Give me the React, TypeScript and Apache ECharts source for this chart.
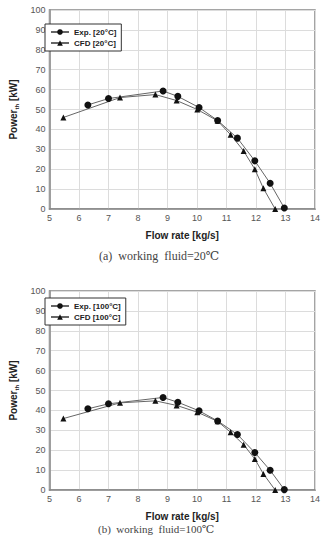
import React, { useEffect, useRef } from "react";
import * as echarts from "echarts";

// Flow rate [kg/s] of the measured and simulated operating points
const flowExp = [6.3, 7.0, 8.85, 9.35, 10.07, 10.7, 11.37, 11.96, 12.48, 12.96];
const flowCfd = [5.47, 7.39, 8.59, 9.31, 10.01, 10.7, 11.14, 11.58, 11.96, 12.25, 12.65];

// Power_th [kW], working fluid at 20 °C
const power20Exp = [52.3, 55.5, 59.3, 56.6, 51.0, 44.5, 35.6, 24.2, 12.9, 0.5];
const power20Cfd = [46.0, 56.0, 57.5, 54.5, 50.0, 44.3, 37.3, 29.2, 20.0, 10.4, 0];

// Power_th [kW], working fluid at 100 °C
const power100Exp = [40.8, 43.3, 46.5, 44.1, 39.8, 34.7, 27.9, 18.8, 9.9, 0.2];
const power100Cfd = [35.9, 43.8, 44.8, 42.5, 39.1, 34.5, 29.0, 22.8, 15.6, 8.1, 0];

const seriesNames20 = ["Exp. [20°C]", "CFD [20°C]"];
const seriesNames100 = ["Exp. [100°C]", "CFD [100°C]"];
const captions = ["(a)  working  fluid=20℃", "(b)  working  fluid=100℃"];

const SANS = "Liberation Sans, Arial, sans-serif";
const SERIF = "Liberation Serif, DejaVu Serif, serif";

const zip = (xs: number[], ys: number[]) => xs.map((x, i) => [x, ys[i]]);

const xAxisFor = (gridIndex: number) => ({
  type: "value" as const,
  gridIndex,
  min: 5,
  max: 14,
  interval: 1,
  name: "Flow rate [kg/s]",
  nameLocation: "middle" as const,
  nameGap: 21,
  nameTextStyle: { fontFamily: SANS, fontSize: 10, fontWeight: "bold", color: "#222" },
  axisLine: { show: true, onZero: false, lineStyle: { color: "#888", width: 1.5 } },
  axisTick: { show: false },
  axisLabel: { fontFamily: SANS, fontSize: 9, color: "#555", margin: 4 },
  splitLine: { show: true, lineStyle: { color: "#dcdcdc", width: 1 } },
});

const yAxisFor = (gridIndex: number) => ({
  type: "value" as const,
  gridIndex,
  min: 0,
  max: 100,
  interval: 10,
  name: "{b|Power}{s|th}{b| [kW]}",
  nameLocation: "middle" as const,
  nameGap: 30,
  nameRotate: 90,
  nameTextStyle: {
    rich: {
      b: { fontFamily: SANS, fontSize: 10, fontWeight: "bold", color: "#222", lineHeight: 13, verticalAlign: "middle" },
      s: { fontFamily: SANS, fontSize: 6, fontWeight: "bold", color: "#222", lineHeight: 13, verticalAlign: "bottom" },
    },
  },
  axisLine: { show: true, lineStyle: { color: "#888", width: 1.5 } },
  axisTick: { show: false },
  axisLabel: { fontFamily: SANS, fontSize: 9, color: "#555", margin: 4 },
  splitLine: { show: true, lineStyle: { color: "#dcdcdc", width: 1 } },
});

const lineSeries = (name: string, data: number[][], idx: number, symbol: string, size: number) => ({
  name,
  type: "line" as const,
  xAxisIndex: idx,
  yAxisIndex: idx,
  data,
  symbol,
  symbolSize: size,
  showAllSymbol: true,
  lineStyle: { color: "#666", width: 1 },
  itemStyle: { color: "#111", borderColor: "#111", borderWidth: 0 },
  emphasis: { disabled: true },
});

const legendFor = (names: string[], top: number) => ({
  data: names,
  orient: "vertical" as const,
  left: 45,
  top,
  padding: [4, 5, 4, 5],
  itemGap: 3,
  itemWidth: 18,
  itemHeight: 7,
  backgroundColor: "#fff",
  borderColor: "#333",
  borderWidth: 1,
  borderRadius: 0,
  selectedMode: false,
  textStyle: { fontFamily: SANS, fontSize: 8, fontWeight: "bold", color: "#222", padding: [0, 0, 0, 0] },
});

export default function App() {
  const ref = useRef<HTMLDivElement>(null);

  useEffect(() => {
    if (!ref.current) return;
    const chart = echarts.init(ref.current, undefined, { renderer: "svg" });
    chart.setOption({
      animation: false,
      backgroundColor: "#fff",
      grid: [
        { left: 39, top: 10, width: 276, height: 199, show: true, borderColor: "#888", borderWidth: 1.5, backgroundColor: "transparent" },
        { left: 39, top: 291, width: 276, height: 199, show: true, borderColor: "#888", borderWidth: 1.5, backgroundColor: "transparent" },
      ],
      xAxis: [xAxisFor(0), xAxisFor(1)],
      yAxis: [yAxisFor(0), yAxisFor(1)],
      legend: [legendFor(seriesNames20, 24), legendFor(seriesNames100, 298)],
      series: [
        lineSeries(seriesNames20[0], zip(flowExp, power20Exp), 0, "circle", 7),
        lineSeries(seriesNames20[1], zip(flowCfd, power20Cfd), 0, "triangle", 6),
        lineSeries(seriesNames100[0], zip(flowExp, power100Exp), 1, "circle", 7),
        lineSeries(seriesNames100[1], zip(flowCfd, power100Cfd), 1, "triangle", 6),
      ],
      graphic: [
        {
          type: "text",
          left: 99,
          top: 250,
          style: { text: captions[0], fontFamily: SERIF, fontSize: 12, fill: "#444" },
        },
        {
          type: "text",
          left: 98,
          top: 523,
          style: { text: captions[1], fontFamily: SERIF, fontSize: 11, fill: "#444" },
        },
      ],
    });
    return () => chart.dispose();
  }, []);

  return (
    <div
      ref={ref}
      style={{ position: "absolute", left: 0, top: 0, width: 323, height: 535 }}
    />
  );
}
